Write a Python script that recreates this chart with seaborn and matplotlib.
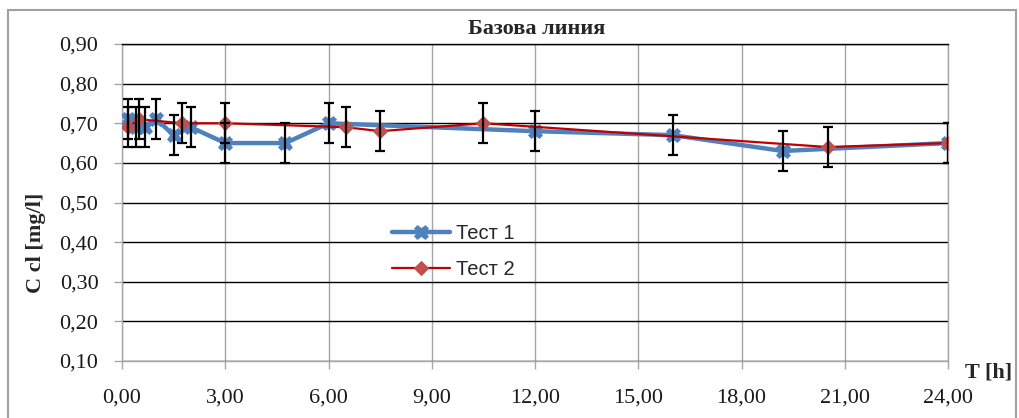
import matplotlib
matplotlib.use("Agg")
import matplotlib.pyplot as plt
import seaborn as sns
import pandas as pd
from matplotlib.patches import Rectangle
from matplotlib.ticker import FixedLocator, FuncFormatter

# ---- data ----
test1_time = [0.17, 0.42, 0.67, 1.0, 1.5, 2.0, 3.0, 4.75, 6.0, 12.0, 16.0, 19.2, 24.0]
test1_conc = [0.71, 0.69, 0.69, 0.71, 0.67, 0.69, 0.65, 0.65, 0.70, 0.68, 0.67, 0.63, 0.65]
test1_err = [0.05, 0.05, 0.05, 0.05, 0.05, 0.05, 0.05, 0.05, 0.05, 0.05, 0.05, 0.05, 0.05]

test2_time = [0.17, 0.5, 1.75, 3.0, 6.5, 7.5, 10.5, 20.5, 24.0]
test2_conc = [0.69, 0.71, 0.70, 0.70, 0.69, 0.68, 0.70, 0.64, 0.65]
test2_err = [0.05, 0.05, 0.05, 0.05, 0.05, 0.05, 0.05, 0.05, 0.05]

x_ticks = [0, 3, 6, 9, 12, 15, 18, 21, 24]
y_ticks = [0.10, 0.20, 0.30, 0.40, 0.50, 0.60, 0.70, 0.80, 0.90]

title = "Базова линия"
x_label = "T [h]"
y_label = "C cl [mg/l]"
series_names = ["Тест 1", "Тест 2"]

# ---- style ----
sns.set_style("white")
plt.rcParams["font.family"] = ["Liberation Serif", "DejaVu Serif"]

W, H = 1019, 418
fig = plt.figure(figsize=(W / 100, H / 100), dpi=100)
ax = fig.add_axes([122 / W, 1 - 361 / H, (948 - 122) / W, (361 - 44) / H])

blue = "#4F81BD"
red_line = "#C00000"
red_marker = "#C0504D"

df1 = pd.DataFrame({"t": test1_time, "c": test1_conc})
df2 = pd.DataFrame({"t": test2_time, "c": test2_conc})

sns.lineplot(data=df1, x="t", y="c", ax=ax, color=blue, lw=3.2, marker="X",
             markersize=10.5, markeredgecolor=blue, markeredgewidth=0.5,
             label=series_names[0], sort=False, zorder=3)
sns.lineplot(data=df2, x="t", y="c", ax=ax, color=red_line, lw=1.6, marker="D",
             markersize=7.5, markerfacecolor=red_marker, markeredgecolor=red_marker,
             label=series_names[1], sort=False, zorder=4)

ax.errorbar(test1_time, test1_conc, yerr=test1_err, fmt="none", ecolor="black",
            elinewidth=1.6, capsize=3.5, capthick=1.6, zorder=6)
ax.errorbar(test2_time, test2_conc, yerr=test2_err, fmt="none", ecolor="black",
            elinewidth=1.6, capsize=3.5, capthick=1.6, zorder=6)

ax.set_xlim(0, 24)
ax.set_ylim(0.10, 0.90)
ax.xaxis.set_major_locator(FixedLocator(x_ticks))
ax.yaxis.set_major_locator(FixedLocator(y_ticks))
ax.xaxis.set_major_formatter(FuncFormatter(lambda v, p: f"{v:.2f}".replace(".", ",")))
ax.yaxis.set_major_formatter(FuncFormatter(lambda v, p: f"{v:.2f}".replace(".", ",")))

ax.grid(axis="y", color="black", lw=1.0, zorder=0)
ax.grid(axis="x", color="#A6A6A6", lw=1.0, zorder=0)
ax.set_axisbelow(True)

for s in ["left", "bottom", "right"]:
    ax.spines[s].set_color("#A6A6A6")
    ax.spines[s].set_linewidth(1.0)
ax.spines["top"].set_color("black")
ax.spines["top"].set_linewidth(1.0)

ax.tick_params(axis="both", direction="out", length=6, width=1.0, color="#A6A6A6",
               labelsize=16, labelcolor="#1a1a1a")
ax.tick_params(axis="x", pad=14, bottom=True)
ax.tick_params(axis="y", pad=11, left=True)

ax.set_xlabel("")
ax.set_ylabel("")

fig.text(537 / W, 1 - 29 / H, title, ha="center", va="center",
         fontsize=16, fontweight="bold")
fig.text(36 / W, 1 - 243 / H, y_label, ha="center", va="center", rotation=90,
         fontsize=16, fontweight="bold")
fig.text(989 / W, 1 - 373 / H, x_label, ha="center", va="center",
         fontsize=16, fontweight="bold")

leg = ax.legend(loc="upper left", bbox_to_anchor=(392 / W, 1 - 224 / H),
                bbox_transform=fig.transFigure, frameon=False, borderpad=0,
                borderaxespad=0, handlelength=2.9, handletextpad=0.3,
                labelspacing=0.85,
                prop={"family": ["Liberation Sans", "DejaVu Sans"], "size": 14.5})

# outer chart border
fig.patches.append(Rectangle((8 / W, -0.05), (1016 - 8) / W, 1.05 - 10 / H,
                             transform=fig.transFigure, fill=False,
                             edgecolor="#A0A0A0", lw=1.5))

fig.savefig("out.png", dpi=100)
